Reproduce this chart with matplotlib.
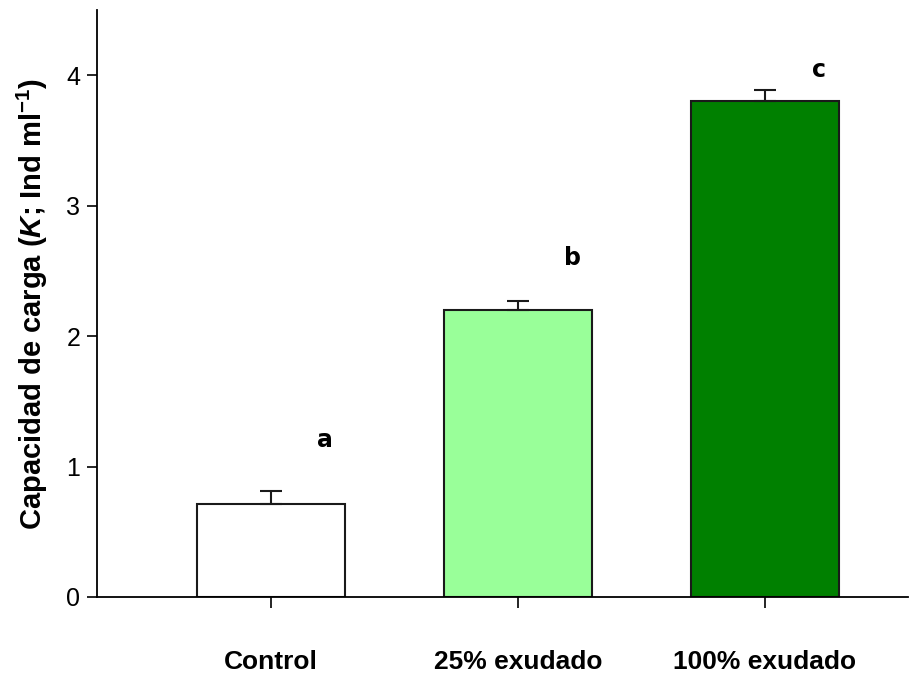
import matplotlib

matplotlib.use("Agg")
import matplotlib.pyplot as plt  # noqa: E402
import numpy as np  # noqa: E402

# carrying capacity per treatment (mean, upper SE) and significance groups
treatments = ["Control", "25% exudado", "100% exudado"]
k_mean = [0.71, 2.20, 3.80]
k_err = [0.10, 0.07, 0.09]
groups = ["a", "b", "c"]
group_y = [1.20, 2.60, 4.04]
bar_colors = ["#ffffff", "#99ff99", "#008000"]

plt.rcParams["font.family"] = ["Liberation Sans", "DejaVu Sans"]
plt.rcParams["mathtext.fontset"] = "custom"
plt.rcParams["mathtext.rm"] = "Liberation Sans:bold"
plt.rcParams["mathtext.it"] = "Liberation Sans:bold:italic"
plt.rcParams["mathtext.bf"] = "Liberation Sans:bold"
plt.rcParams["mathtext.default"] = "rm"

fig = plt.figure(figsize=(9.23, 6.73), dpi=100)
ax = fig.add_axes([0.105, 0.113, 0.879, 0.872])

x = np.arange(len(treatments))
ax.bar(x, k_mean, width=0.6, color=bar_colors, edgecolor="#1a1a1a",
       linewidth=1.5, zorder=2)
ax.errorbar(x, k_mean, yerr=[np.zeros(len(k_err)), k_err], fmt="none",
            ecolor="#1a1a1a", elinewidth=1.5, capsize=8, capthick=1.5, zorder=3)

for xi, g, gy in zip(x, groups, group_y):
    ax.text(xi + 0.22, gy, g, ha="center", va="center",
            fontsize=17, fontweight="bold", family="DejaVu Sans")

ax.set_xlim(-0.705, 2.58)
ax.set_ylim(0, 4.5)
ax.set_yticks([0, 1, 2, 3, 4])
ax.set_xticks(x)
ax.set_xticklabels(treatments, fontsize=19, fontweight="bold")
ax.tick_params(axis="y", labelsize=18, length=7, width=1.2, pad=5)
ax.tick_params(axis="x", length=8, width=1.2, pad=30)

for side in ("top", "right"):
    ax.spines[side].set_visible(False)
for side in ("left", "bottom"):
    ax.spines[side].set_linewidth(1.3)

ax.set_ylabel(r"Capacidad de carga ($\mathit{K}$; Ind ml$^{-1}$)",
              fontsize=21, fontweight="bold", labelpad=12)

fig.savefig("out.png", dpi=100)
